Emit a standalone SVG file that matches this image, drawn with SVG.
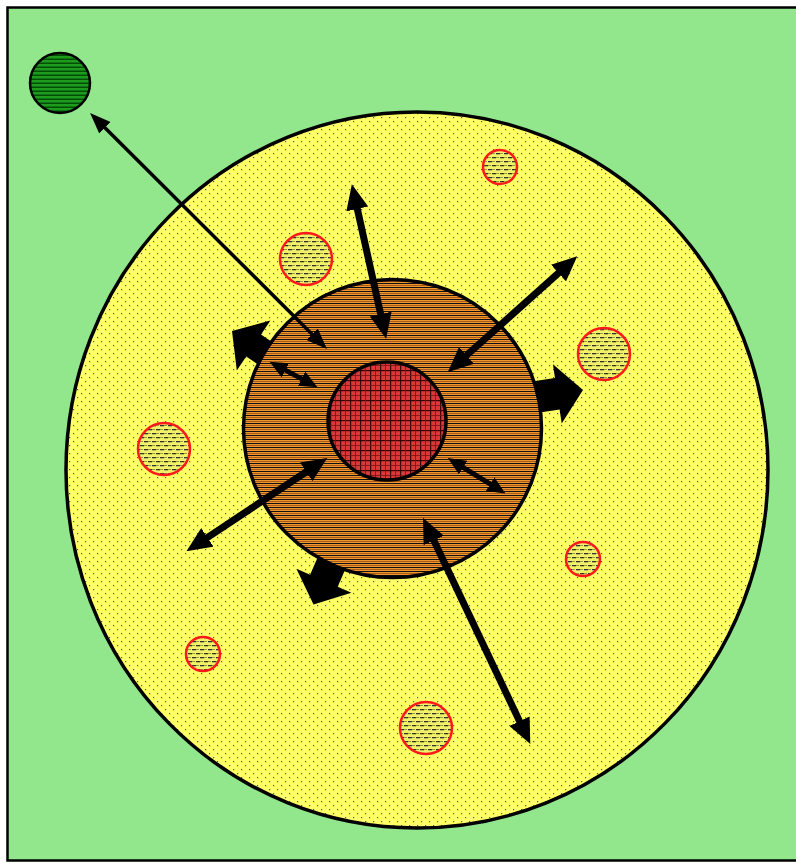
<svg xmlns="http://www.w3.org/2000/svg" width="796" height="863" viewBox="0 0 796 863">
<defs>
<style>
.outline{stroke:#000;stroke-width:3.5}
.small{fill:url(#dash);stroke:#FF1A1A;stroke-width:2.5}
.arr{stroke:#000;fill:none;marker-start:url(#h);marker-end:url(#h)}
.arrt{stroke:#000;fill:none;stroke-width:3.5;marker-start:url(#ht);marker-end:url(#ht)}
.block{fill:#000}
</style>
<pattern id="dots" width="8" height="8" patternUnits="userSpaceOnUse">
<rect width="8" height="8" fill="#FFFF66"/>
<rect x="1" y="1" width="1.2" height="1.2" fill="#555"/>
<rect x="5" y="5" width="1.2" height="1.2" fill="#555"/>
</pattern>
<pattern id="dash" width="8" height="8" patternUnits="userSpaceOnUse">
<rect width="8" height="8" fill="#F2F266"/>
<rect x="0" y="1" width="4" height="1.3" fill="#333"/>
<rect x="4" y="5" width="4" height="1.3" fill="#333"/>
<rect x="4" y="1" width="3" height="1" fill="#99994a"/>
<rect x="0" y="5" width="3" height="1" fill="#99994a"/>
</pattern>
<pattern id="hstripes" width="4" height="4" patternUnits="userSpaceOnUse">
<rect width="4" height="4" fill="#F0962F"/>
<rect y="1" width="4" height="1" fill="#A85A18"/>
<rect y="3" width="4" height="1" fill="#111"/>
</pattern>
<pattern id="grid" width="10" height="10" patternUnits="userSpaceOnUse">
<rect width="10" height="10" fill="#D83A3A"/>
<rect x="0" y="0" width="1.2" height="10" fill="#3a0000"/>
<rect x="0" y="0" width="10" height="1.2" fill="#3a0000"/>
<rect x="5" y="0" width="0.8" height="10" fill="#7a1010"/>
<rect x="0" y="5" width="10" height="0.8" fill="#7a1010"/>
</pattern>
<pattern id="gstripes" width="4" height="4" patternUnits="userSpaceOnUse">
<rect width="4" height="4" fill="#1E9B1E"/>
<rect y="2.5" width="4" height="1.5" fill="#004F00"/>
</pattern>
<marker id="h" markerWidth="3.6" markerHeight="3.2" refX="1" refY="1.6" orient="auto-start-reverse" markerUnits="strokeWidth">
<path d="M0,0 L3.6,1.6 L0,3.2 Z" fill="#000"/>
</marker>
<marker id="ht" markerWidth="6" markerHeight="4.6" refX="1.5" refY="2.3" orient="auto-start-reverse" markerUnits="strokeWidth">
<path d="M0,0 L6,2.3 L0,4.6 Z" fill="#000"/>
</marker>
<clipPath id="outside">
<path clip-rule="evenodd" d="M0,0H796V863H0Z M243.5,428.5 a149,149 0 1,0 298,0 a149,149 0 1,0 -298,0Z"/>
</clipPath>
</defs>

<g id="background">
<rect x="7.5" y="7.5" width="792" height="853" fill="#92E68C" stroke="#000" stroke-width="2.5"/>
</g>

<g id="green-cell">
<circle cx="60" cy="83" r="30" fill="url(#gstripes)" stroke="#000" stroke-width="2.5"/>
</g>

<g id="yellow-zone">
<ellipse cx="417" cy="470" rx="351" ry="358" fill="url(#dots)" class="outline"/>
</g>

<g id="small-circles">
<circle id="s1" cx="500" cy="167" r="17" class="small"/>
<circle id="s2" cx="306" cy="259" r="26" class="small"/>
<circle id="s3" cx="604" cy="354" r="26" class="small"/>
<circle id="s4" cx="164" cy="449" r="26" class="small"/>
<circle id="s5" cx="583" cy="559" r="17" class="small"/>
<circle id="s6" cx="203" cy="654" r="17" class="small"/>
<circle id="s7" cx="426" cy="728" r="26" class="small"/>
</g>

<g id="brown-zone">
<circle cx="392.5" cy="428.5" r="149" fill="url(#hstripes)" class="outline"/>
</g>

<g id="red-core">
<circle cx="387" cy="421" r="59" fill="url(#grid)" class="outline"/>
</g>

<g id="connectors">
<g clip-path="url(#outside)">
<polygon class="block" points="232,331 270.4,320.6 261,334.5 294.2,356.9 279.4,378.9 246.2,356.5 236.8,370.4"/>
<polygon class="block" points="583,390 561.7,423.5 559.6,409.6 520,415.6 515.4,384 555,378 552.9,364.2"/>
<polygon class="block" points="313.5,604.5 351.4,592.7 337.7,586.7 353.7,550 326.1,538 310.1,574.7 296.4,568.7"/>
</g>
<line class="arrt" x1="101.2" y1="124.1" x2="315.8" y2="337.9"/>
<line class="arr" stroke-width="7" x1="355.8" y1="202.1" x2="382.2" y2="320.9"/>
<line class="arr" stroke-width="7" x1="563.7" y1="268.4" x2="461.3" y2="360"/>
<line class="arr" stroke-width="7" x1="312.1" y1="468" x2="201.6" y2="541.3"/>
<line class="arr" stroke-width="7" x1="430.8" y1="534.1" x2="522.5" y2="727.5"/>
<line class="arr" stroke-width="5" x1="458.9" y1="464.9" x2="494.4" y2="486.7"/>
<line class="arr" stroke-width="5" x1="281" y1="367.9" x2="306" y2="381.1"/>
</g>
</svg>
